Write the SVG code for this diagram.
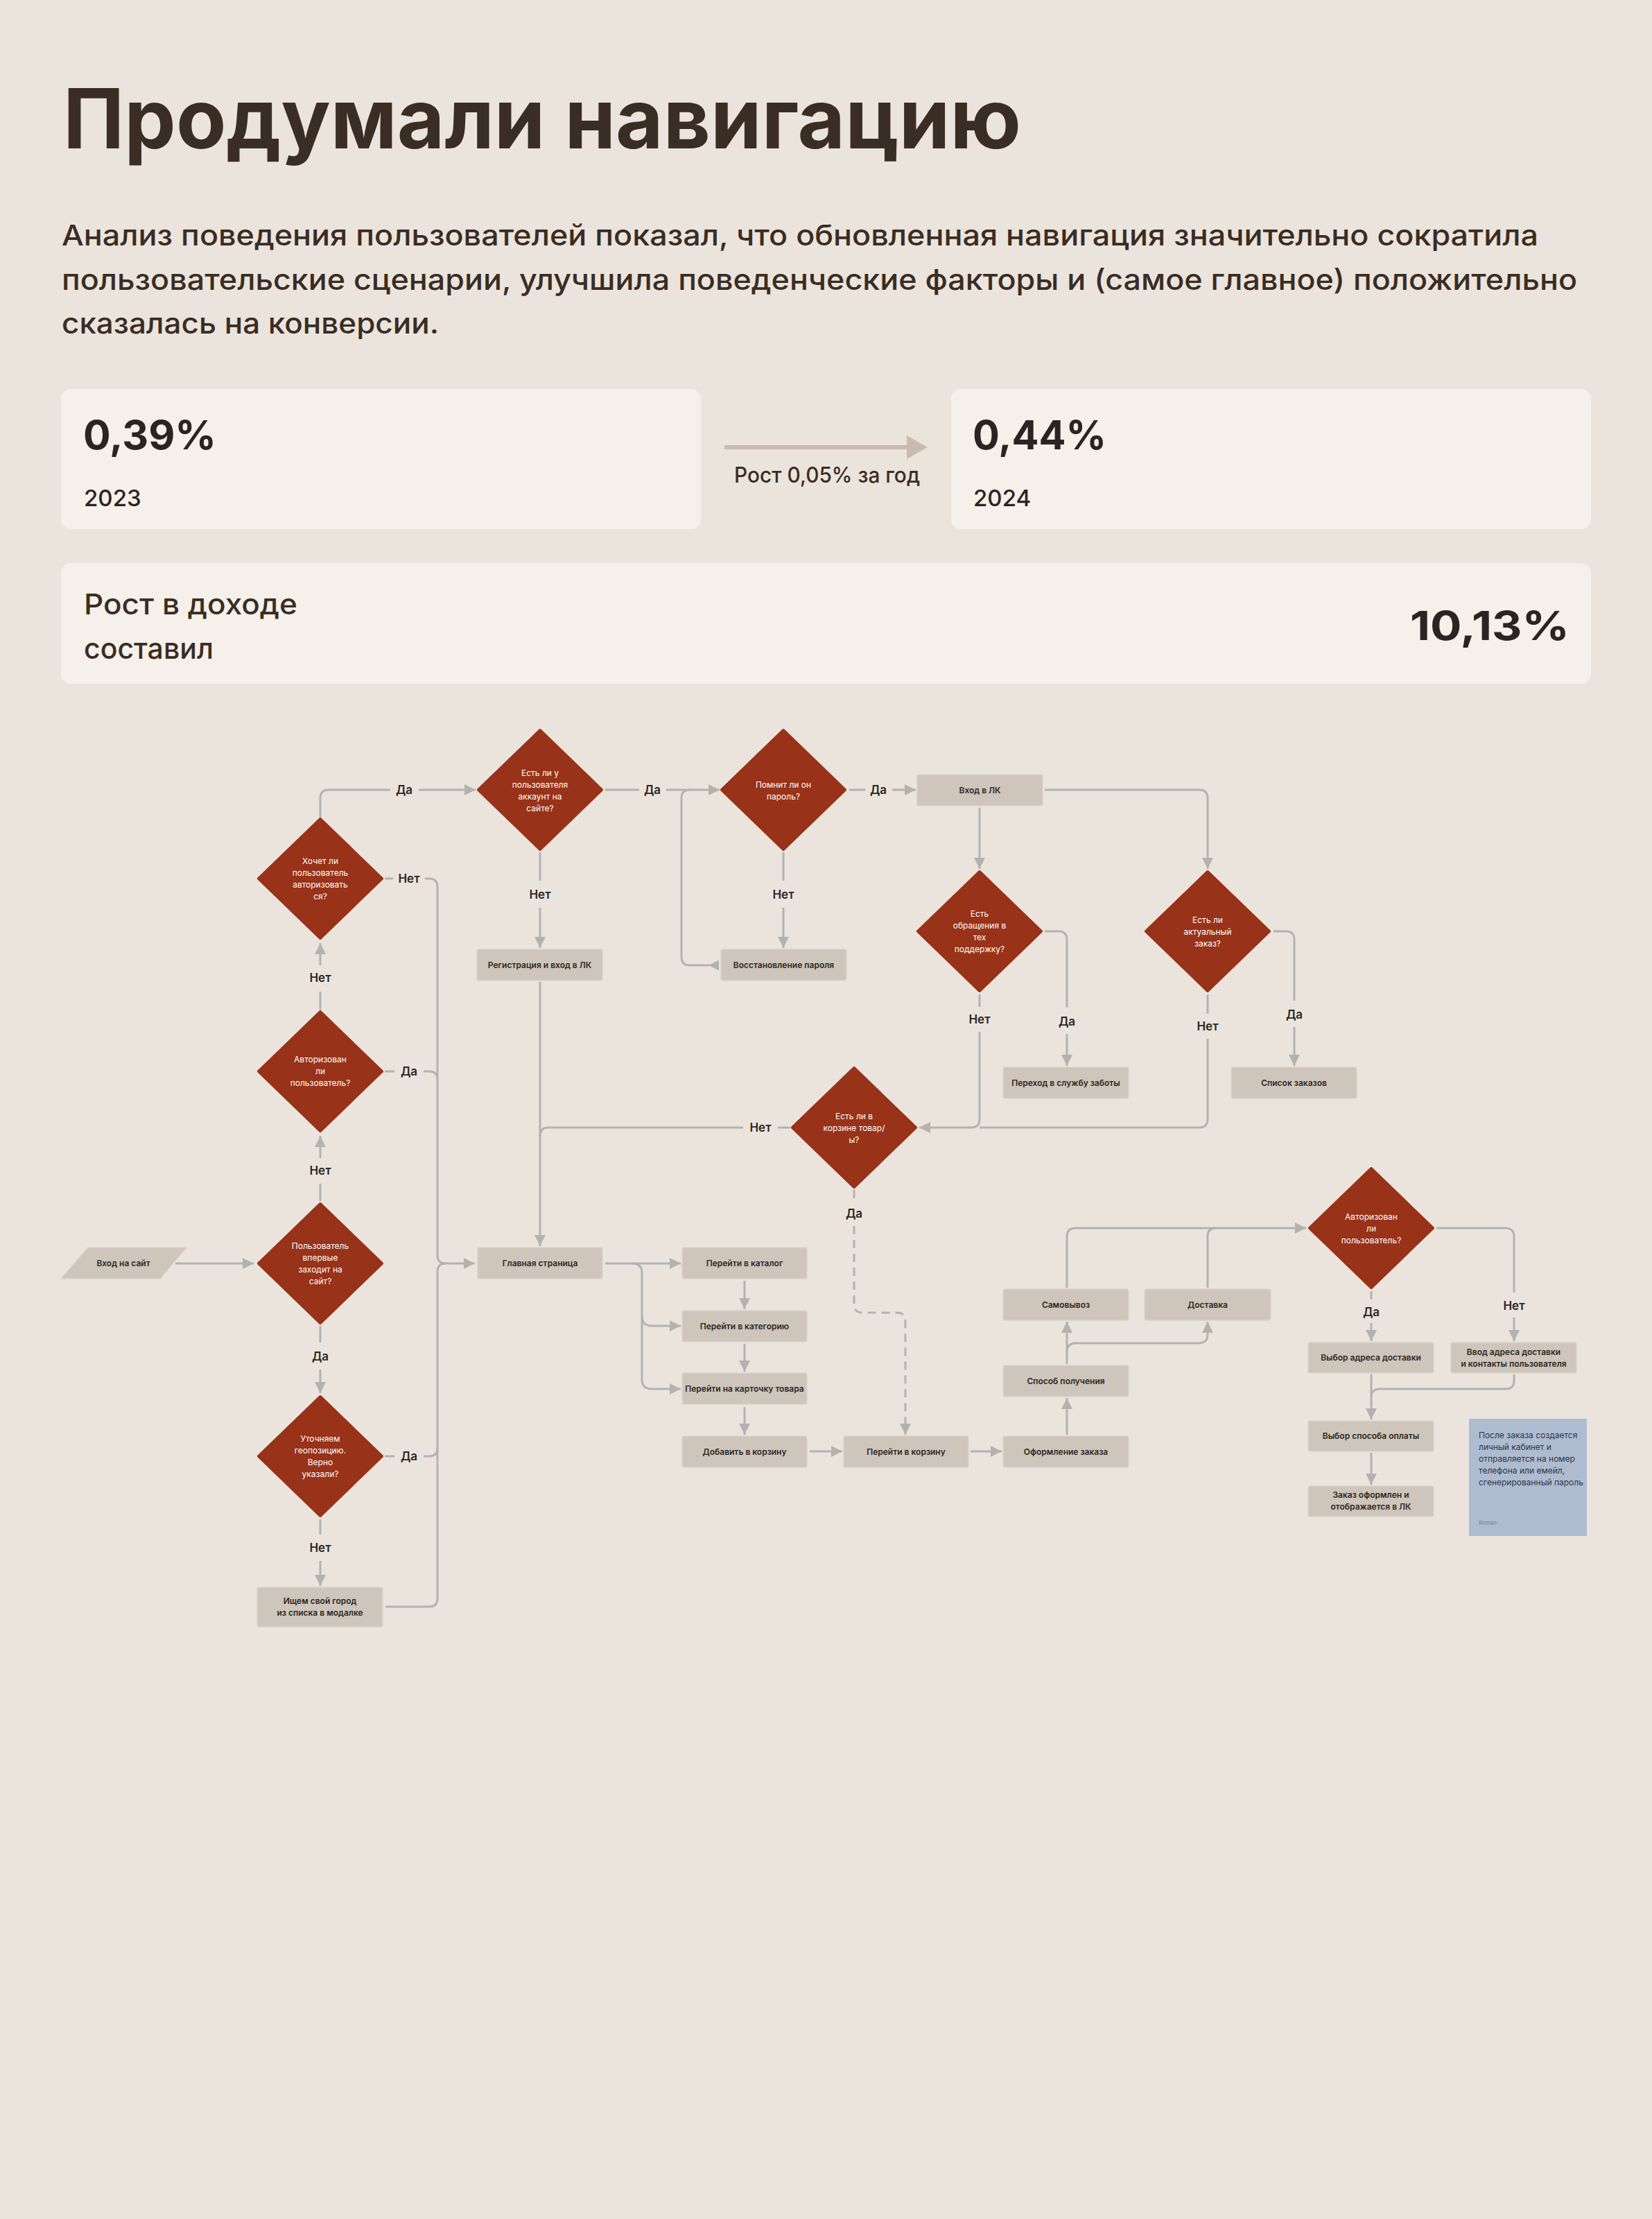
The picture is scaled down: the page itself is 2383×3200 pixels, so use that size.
<svg xmlns="http://www.w3.org/2000/svg" xmlns:xlink="http://www.w3.org/1999/xlink" width="2383" height="3200" viewBox="0 0 2383 3200">
<defs>
<style>
.card{fill:#f6f0ea}
.box{fill:#cec5bb;stroke:#dbd3ca;stroke-width:1.5}
.conn{fill:none;stroke:#b4b2af;stroke-width:3}
.dash{stroke-dasharray:12 8}
.dt{font-family:Inter,"Noto Sans",sans-serif;font-size:12px;fill:#ffffff;text-anchor:middle}
.bt{font-family:Inter,"Noto Sans",sans-serif;font-size:12px;font-weight:600;fill:#2b2622;text-anchor:middle}
.lbl{font-family:Inter,"Noto Sans",sans-serif;font-size:17px;font-weight:600;fill:#2b2622;text-anchor:middle}
.hd{font-family:Inter,"Noto Sans",sans-serif;fill:#3a2d23}
.num{font-family:Inter,"Noto Sans",sans-serif;font-size:58px;font-weight:700;fill:#2a2522}
.sub{font-family:Inter,"Noto Sans",sans-serif;font-size:33px;font-weight:500;fill:#2a2522}
</style>
<path id="dm" d="M0,-86 L89,0 L0,86 L-89,0 Z" fill="#983218" stroke="#983218" stroke-width="4" stroke-linejoin="round"/>
<marker id="ar" markerUnits="userSpaceOnUse" markerWidth="16" markerHeight="16" refX="14" refY="7" orient="auto" viewBox="0 0 14 14">
<path d="M0,0 L14,7 L0,14 Z" fill="#b4b2af"/>
</marker>
</defs>
<rect width="2383" height="3200" fill="#ebe4dd"/>

<g id="header">
<text class="hd" x="91" y="214" font-size="120" font-weight="700" textLength="1382" lengthAdjust="spacingAndGlyphs">Продумали навигацию</text>
<text class="hd" x="89" y="354" font-size="41" font-weight="500" textLength="2130" lengthAdjust="spacingAndGlyphs">Анализ поведения пользователей показал, что обновленная навигация значительно сократила</text>
<text class="hd" x="89" y="418" font-size="41" font-weight="500" textLength="2186" lengthAdjust="spacingAndGlyphs">пользовательские сценарии, улучшила поведенческие факторы и (самое главное) положительно</text>
<text class="hd" x="89" y="481" font-size="41" font-weight="500" textLength="544" lengthAdjust="spacingAndGlyphs">сказалась на конверсии.</text>
</g>

<g id="card-2023">
<rect class="card" x="88" y="561" width="923" height="202" rx="14"/>
<text class="num" x="120" y="648" textLength="192" lengthAdjust="spacingAndGlyphs">0,39%</text>
<text class="sub" x="121" y="730">2023</text>
</g>
<g id="growth-arrow">
<path d="M1045 645 H1312" stroke="#c8bcb0" stroke-width="6" fill="none"/>
<polygon points="1308,628 1338,645 1308,662" fill="#c8bcb0"/>
<text class="hd" x="1193" y="696" font-size="31" font-weight="500" fill="#2a2522" text-anchor="middle" textLength="268" lengthAdjust="spacingAndGlyphs">Рост 0,05% за год</text>
</g>
<g id="card-2024">
<rect class="card" x="1372" y="561" width="923" height="202" rx="14"/>
<text class="num" x="1403" y="648" textLength="193" lengthAdjust="spacingAndGlyphs">0,44%</text>
<text class="sub" x="1404" y="730">2024</text>
</g>
<g id="card-income">
<rect class="card" x="88" y="812" width="2207" height="174" rx="14"/>
<text class="hd" x="121" y="886" font-size="41" font-weight="500" fill="#2a2522" textLength="308" lengthAdjust="spacingAndGlyphs">Рост в доходе</text>
<text class="hd" x="121" y="950" font-size="41" font-weight="500" fill="#2a2522">составил</text>
<text class="num" x="2264" y="923" text-anchor="end" textLength="230" lengthAdjust="spacingAndGlyphs">10,13%</text>
</g>

<g id="connectors">
<path class="conn" marker-end="url(#ar)" d="M253 1822 H366"/>
<path class="conn" marker-end="url(#ar)" d="M462 1732 V1707 M462 1670 V1638"/>
<path class="conn" marker-end="url(#ar)" d="M462 1457 V1430 M462 1392 V1360"/>
<path class="conn" marker-end="url(#ar)" d="M462 1179 V1151 Q462 1139 474 1139 H563 M604 1139 H686"/>
<path class="conn" d="M555 1267 H567"/>
<path class="conn" marker-end="url(#ar)" d="M613 1267 H619 Q631 1267 631 1279 V1810 Q631 1822 643 1822 H685"/>
<path class="conn" d="M555 1545 H569 M611 1545 H619 Q631 1545 631 1557"/>
<path class="conn" d="M555 2100 H569 M611 2100 H619 Q631 2100 631 2088"/>
<path class="conn" d="M556 2317 H619 Q631 2317 631 2305 V1834 Q631 1822 643 1822"/>
<path class="conn" marker-end="url(#ar)" d="M462 1912 V1936 M462 1975 V2009"/>
<path class="conn" marker-end="url(#ar)" d="M462 2191 V2213 M462 2251 V2287"/>
<path class="conn" marker-end="url(#ar)" d="M873 1139 H922 M961 1139 H1038"/>
<path class="conn" d="M1024 1392 H995 Q983 1392 983 1380 V1151 Q983 1139 995 1139 H1000"/>
<polygon points="1022,1392 1037,1384.5 1037,1399.5" fill="#b4b2af"/>
<path class="conn" marker-end="url(#ar)" d="M779 1229 V1270 M779 1309 V1367"/>
<path class="conn" marker-end="url(#ar)" d="M1130 1229 V1270 M1130 1309 V1367"/>
<path class="conn" marker-end="url(#ar)" d="M1225 1139 H1248 M1287 1139 H1321"/>
<path class="conn" marker-end="url(#ar)" d="M1413 1165 V1253"/>
<path class="conn" marker-end="url(#ar)" d="M1507 1139 H1730 Q1742 1139 1742 1151 V1253"/>
<path class="conn" marker-end="url(#ar)" d="M1507 1343 H1527 Q1539 1343 1539 1355 V1453 M1539 1491 V1537"/>
<path class="conn" marker-end="url(#ar)" d="M1837 1343 H1855 Q1867 1343 1867 1355 V1443 M1867 1481 V1537"/>
<path class="conn" marker-end="url(#ar)" d="M1413 1434 V1452 M1413 1488 V1614 Q1413 1626 1401 1626 H1326"/>
<path class="conn" d="M1742 1434 V1462 M1742 1498 V1614 Q1742 1626 1730 1626 H1413"/>
<path class="conn" d="M1140 1626 H1122 M1072 1626 H791 Q779 1626 779 1638"/>
<path class="conn" marker-end="url(#ar)" d="M779 1416 V1797"/>
<path class="conn dash" marker-end="url(#ar)" d="M1232 1716 V1732 M1232 1768 V1881 Q1232 1893 1244 1893 H1294 Q1306 1893 1306 1905 V2069"/>
<path class="conn" marker-end="url(#ar)" d="M873 1822 H982"/>
<path class="conn" marker-end="url(#ar)" d="M912 1822 Q926 1822 926 1836 V1898 Q926 1912 940 1912 H982"/>
<path class="conn" marker-end="url(#ar)" d="M926 1898 V1989 Q926 2003 940 2003 H982"/>
<path class="conn" marker-end="url(#ar)" d="M1074 1847 V1888"/>
<path class="conn" marker-end="url(#ar)" d="M1074 1938 V1978"/>
<path class="conn" marker-end="url(#ar)" d="M1074 2029 V2069"/>
<path class="conn" marker-end="url(#ar)" d="M1168 2093 H1215"/>
<path class="conn" marker-end="url(#ar)" d="M1400 2093 H1445"/>
<path class="conn" marker-end="url(#ar)" d="M1539 2069 V2016"/>
<path class="conn" marker-end="url(#ar)" d="M1539 1967 V1906"/>
<path class="conn" marker-end="url(#ar)" d="M1539 1950 Q1539 1937 1552 1937 H1729 Q1742 1937 1742 1924 V1906"/>
<path class="conn" marker-end="url(#ar)" d="M1539 1857 V1783 Q1539 1771 1551 1771 H1884"/>
<path class="conn" d="M1742 1857 V1783 Q1742 1771 1754 1771"/>
<path class="conn" marker-end="url(#ar)" d="M1978 1862 V1874 M1978 1908 V1934"/>
<path class="conn" marker-end="url(#ar)" d="M2072 1771 H2172 Q2184 1771 2184 1783 V1864 M2184 1900 V1934"/>
<path class="conn" marker-end="url(#ar)" d="M1978 1982 V2047"/>
<path class="conn" d="M2184 1982 V1991 Q2184 2003 2172 2003 H1990 Q1978 2003 1978 2015"/>
<path class="conn" marker-end="url(#ar)" d="M1978 2095 V2141"/>
</g>

<g id="edge-labels">
<text class="lbl" x="583" y="1145">Да</text>
<text class="lbl" x="590" y="1273">Нет</text>
<text class="lbl" x="462" y="1416">Нет</text>
<text class="lbl" x="590" y="1551">Да</text>
<text class="lbl" x="462" y="1694">Нет</text>
<text class="lbl" x="462" y="1962">Да</text>
<text class="lbl" x="590" y="2106">Да</text>
<text class="lbl" x="462" y="2238">Нет</text>
<text class="lbl" x="941" y="1145">Да</text>
<text class="lbl" x="779" y="1296">Нет</text>
<text class="lbl" x="1130" y="1296">Нет</text>
<text class="lbl" x="1267" y="1145">Да</text>
<text class="lbl" x="1413" y="1476">Нет</text>
<text class="lbl" x="1539" y="1479">Да</text>
<text class="lbl" x="1742" y="1486">Нет</text>
<text class="lbl" x="1867" y="1469">Да</text>
<text class="lbl" x="1097" y="1632">Нет</text>
<text class="lbl" x="1232" y="1756">Да</text>
<text class="lbl" x="1978" y="1898">Да</text>
<text class="lbl" x="2184" y="1889">Нет</text>
</g>

<g id="start">
<polygon points="127,1799 269,1799 231,1844 88,1844" fill="#cec5bb" stroke="#dbd3ca" stroke-width="1.5"/>
<text class="bt" x="178" y="1826">Вход на сайт</text>
</g>

<g id="q-first-visit"><use xlink:href="#dm" x="462" y="1822"/>
<text class="dt" x="462" y="1801">Пользователь</text><text class="dt" x="462" y="1818">впервые</text><text class="dt" x="462" y="1835">заходит на</text><text class="dt" x="462" y="1852">сайт?</text></g>
<g id="q-authorized-1"><use xlink:href="#dm" x="462" y="1545"/>
<text class="dt" x="462" y="1532">Авторизован</text><text class="dt" x="462" y="1549">ли</text><text class="dt" x="462" y="1566">пользователь?</text></g>
<g id="q-want-auth"><use xlink:href="#dm" x="462" y="1267"/>
<text class="dt" x="462" y="1246">Хочет ли</text><text class="dt" x="462" y="1263">пользователь</text><text class="dt" x="462" y="1280">авторизовать</text><text class="dt" x="462" y="1297">ся?</text></g>
<g id="q-account"><use xlink:href="#dm" x="779" y="1139"/>
<text class="dt" x="779" y="1119">Есть ли у</text><text class="dt" x="779" y="1136">пользователя</text><text class="dt" x="779" y="1153">аккаунт на</text><text class="dt" x="779" y="1170">сайте?</text></g>
<g id="q-password"><use xlink:href="#dm" x="1130" y="1139"/>
<text class="dt" x="1130" y="1136">Помнит ли он</text><text class="dt" x="1130" y="1153">пароль?</text></g>
<g id="q-support"><use xlink:href="#dm" x="1413" y="1343"/>
<text class="dt" x="1413" y="1322">Есть</text><text class="dt" x="1413" y="1339">обращения в</text><text class="dt" x="1413" y="1356">тех</text><text class="dt" x="1413" y="1373">поддержку?</text></g>
<g id="q-order"><use xlink:href="#dm" x="1742" y="1343"/>
<text class="dt" x="1742" y="1331">Есть ли</text><text class="dt" x="1742" y="1348">актуальный</text><text class="dt" x="1742" y="1365">заказ?</text></g>
<g id="q-cart"><use xlink:href="#dm" x="1232" y="1626"/>
<text class="dt" x="1232" y="1614">Есть ли в</text><text class="dt" x="1232" y="1631">корзине товар/</text><text class="dt" x="1232" y="1648">ы?</text></g>
<g id="q-geo"><use xlink:href="#dm" x="462" y="2100"/>
<text class="dt" x="462" y="2079">Уточняем</text><text class="dt" x="462" y="2096">геопозицию.</text><text class="dt" x="462" y="2113">Верно</text><text class="dt" x="462" y="2130">указали?</text></g>
<g id="q-authorized-2"><use xlink:href="#dm" x="1978" y="1771"/>
<text class="dt" x="1978" y="1759">Авторизован</text><text class="dt" x="1978" y="1776">ли</text><text class="dt" x="1978" y="1793">пользователь?</text></g>

<g id="n-register"><rect class="box" x="688" y="1369" width="181" height="45" rx="3"/><text class="bt" x="778.5" y="1396">Регистрация и вход в ЛК</text></g>
<g id="n-restore"><rect class="box" x="1040" y="1369" width="181" height="45" rx="3"/><text class="bt" x="1130.5" y="1396">Восстановление пароля</text></g>
<g id="n-login"><rect class="box" x="1323" y="1117" width="181" height="45" rx="3"/><text class="bt" x="1413.5" y="1144">Вход в ЛК</text></g>
<g id="n-support"><rect class="box" x="1447" y="1539" width="181" height="45" rx="3"/><text class="bt" x="1537.5" y="1566">Переход в службу заботы</text></g>
<g id="n-orders"><rect class="box" x="1776" y="1539" width="181" height="45" rx="3"/><text class="bt" x="1866.5" y="1566">Список заказов</text></g>
<g id="n-home"><rect class="box" x="689" y="1799" width="180" height="45" rx="3"/><text class="bt" x="779" y="1826">Главная страница</text></g>
<g id="n-catalog"><rect class="box" x="984" y="1799" width="180" height="45" rx="3"/><text class="bt" x="1074" y="1826">Перейти в каталог</text></g>
<g id="n-category"><rect class="box" x="984" y="1890" width="180" height="45" rx="3"/><text class="bt" x="1074" y="1917">Перейти в категорию</text></g>
<g id="n-product"><rect class="box" x="984" y="1980" width="180" height="45" rx="3"/><text class="bt" x="1074" y="2007">Перейти на карточку товара</text></g>
<g id="n-add"><rect class="box" x="984" y="2071" width="180" height="45" rx="3"/><text class="bt" x="1074" y="2098">Добавить в корзину</text></g>
<g id="n-cart"><rect class="box" x="1217" y="2071" width="180" height="45" rx="3"/><text class="bt" x="1307" y="2098">Перейти в корзину</text></g>
<g id="n-checkout"><rect class="box" x="1447" y="2071" width="181" height="45" rx="3"/><text class="bt" x="1537.5" y="2098">Оформление заказа</text></g>
<g id="n-method"><rect class="box" x="1447" y="1969" width="181" height="45" rx="3"/><text class="bt" x="1537.5" y="1996">Способ получения</text></g>
<g id="n-pickup"><rect class="box" x="1447" y="1859" width="181" height="45" rx="3"/><text class="bt" x="1537.5" y="1886">Самовывоз</text></g>
<g id="n-delivery"><rect class="box" x="1651" y="1859" width="182" height="45" rx="3"/><text class="bt" x="1742" y="1886">Доставка</text></g>
<g id="n-address"><rect class="box" x="1887" y="1936" width="181" height="44" rx="3"/><text class="bt" x="1977.5" y="1962">Выбор адреса доставки</text></g>
<g id="n-enter-address"><rect class="box" x="2093" y="1936" width="181" height="44" rx="3"/><text class="bt" x="2183.5" y="1954">Ввод адреса доставки</text><text class="bt" x="2183.5" y="1971">и контакты пользователя</text></g>
<g id="n-payment"><rect class="box" x="1887" y="2049" width="181" height="44" rx="3"/><text class="bt" x="1977.5" y="2075">Выбор способа оплаты</text></g>
<g id="n-done"><rect class="box" x="1887" y="2143" width="181" height="44" rx="3"/><text class="bt" x="1977.5" y="2160">Заказ оформлен и</text><text class="bt" x="1977.5" y="2177">отображается в ЛК</text></g>
<g id="n-city"><rect class="box" x="371" y="2289" width="181" height="57" rx="3"/><text class="bt" x="461.5" y="2313">Ищем свой город</text><text class="bt" x="461.5" y="2330">из списка в модалке</text></g>

<g id="note">
<rect x="2119" y="2046" width="170" height="169" fill="#aebcd1"/>
<text font-family="Inter, 'Noto Sans', sans-serif" font-size="12" fill="#2e3440">
<tspan x="2133" y="2074">После заказа создается</tspan>
<tspan x="2133" y="2091">личный кабинет и</tspan>
<tspan x="2133" y="2108">отправляется на номер</tspan>
<tspan x="2133" y="2125">телефона или емейл,</tspan>
<tspan x="2133" y="2142">сгенерированный пароль</tspan>
</text>
<text x="2133" y="2199" font-family="Inter, 'Noto Sans', sans-serif" font-size="8" fill="#7a8190">Roman</text>
</g>
</svg>
